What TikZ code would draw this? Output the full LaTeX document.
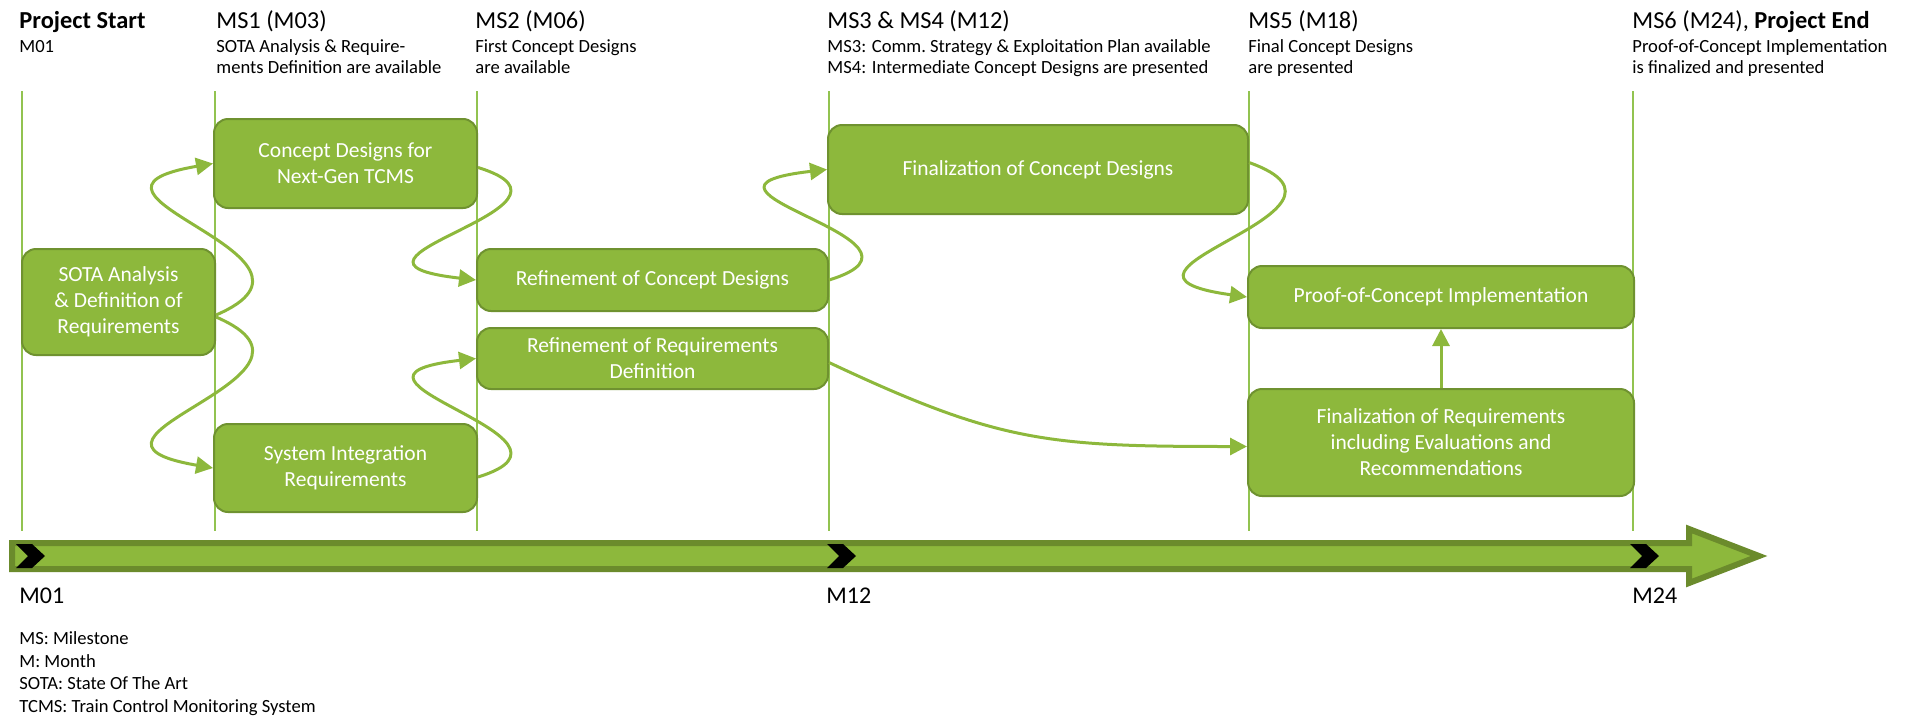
\documentclass[tikz,border=0pt]{standalone}
\usepackage{fontspec}
\setmainfont{Carlito}
\usetikzlibrary{arrows.meta}

\definecolor{taskgreen}{HTML}{8DB83C}
\definecolor{taskedge}{HTML}{6F9230}
\definecolor{msgreen}{HTML}{92C350}
\definecolor{bardark}{HTML}{6B8B2C}

\begin{document}
\begin{tikzpicture}[x=0.5pt, y=-0.5pt, >={Triangle[length=8.5pt,width=8.5pt]},
                    line join=round]
    \tikzstyle{task}=[draw=taskedge, fill=taskgreen, line width=1pt, rounded corners=7pt,
                      text=white, align=center, inner sep=2pt,
                      font=\fontsize{10.75}{13}\selectfont]
    \tikzstyle{flow}=[->, draw=taskgreen, line width=1.5pt]
    \tikzstyle{msline}=[draw=msgreen, line width=1pt]
    \tikzstyle{mstitle}=[anchor=base west, inner sep=0pt, font=\fontsize{12.2}{14}\selectfont]
    \tikzstyle{mstext}=[anchor=base west, inner sep=0pt, align=left,
                        font=\fontsize{9.3}{10.5}\selectfont]
    \tikzstyle{month}=[anchor=base west, inner sep=0pt, font=\fontsize{12}{14}\selectfont]

    \useasboundingbox (0,0) rectangle (1905,718);

    % milestone lines
    \foreach \x in {22,215,477,829,1249,1633}
        \draw[msline] (\x,91) -- (\x,531);

    % milestone headers (multi-line texts sit on their last baseline)
    \node[mstitle] (ms0)  at (19,28)   {\textbf{Project Start}};
    \node[mstext]  (ms0t) at (19,52)   {M01};
    \node[mstitle] (ms1)  at (216,28)  {MS1 (M03)};
    \node[mstext]  (ms1t) at (216,73)  {SOTA Analysis \& Require-\\ments Definition are available};
    \node[mstitle] (ms2)  at (475,28)  {MS2 (M06)};
    \node[mstext]  (ms2t) at (475,73)  {First Concept Designs\\are available};
    \node[mstitle] (ms3)  at (827,28)  {MS3 \& MS4 (M12)};
    \node[mstext]  (ms3t) at (827,73)  {MS3: Comm.\ Strategy \& Exploitation Plan available\\MS4: Intermediate Concept Designs are presented};
    \node[mstitle] (ms5)  at (1248,28) {MS5 (M18)};
    \node[mstext]  (ms5t) at (1248,73) {Final Concept Designs\\are presented};
    \node[mstitle] (ms6)  at (1632,28) {MS6 (M24), \textbf{Project End}};
    \node[mstext]  (ms6t) at (1632,73) {Proof-of-Concept Implementation\\is finalized and presented};

    % work packages
    \node[task, minimum width=96.5pt, minimum height=53pt]  (sota) at (118.5,302)  {SOTA Analysis\\\& Definition of\\Requirements};
    \node[task, minimum width=131.5pt, minimum height=44.5pt] (cd) at (345.5,163.5) {Concept Designs for\\Next-Gen TCMS};
    \node[task, minimum width=131.5pt, minimum height=44pt] (si)   at (345.5,468)  {System Integration\\Requirements};
    \node[task, minimum width=175.5pt, minimum height=31pt] (rcd)  at (652.5,280)  {Refinement of Concept Designs};
    \node[task, minimum width=175.5pt, minimum height=30.5pt] (rrd) at (652.5,358.5) {Refinement of Requirements\\Definition};
    \node[task, minimum width=210pt, minimum height=44.5pt] (fcd)  at (1038,169.5) {Finalization of Concept Designs};
    \node[task, minimum width=193pt, minimum height=31pt]   (poc)  at (1441,297)   {Proof-of-Concept Implementation};
    \node[task, minimum width=193pt, minimum height=53.5pt] (fr)   at (1441,442.5) {Finalization of Requirements\\including Evaluations and\\Recommendations};

    % connectors
    \draw[flow] ([yshift=-6.5pt]sota.east) .. controls +(140,-60) and +(-175,30) .. (cd.west);
    \draw[flow] ([yshift=-7.5pt]sota.east) .. controls +(140,60) and +(-175,-30) .. (si.west);
    \draw[flow] ([yshift=-2pt]cd.east) .. controls +(130,40) and +(-175,-20) .. (rcd.west);
    \draw[flow] ([yshift=-4.5pt]si.east) .. controls +(130,-40) and +(-175,20) .. (rrd.west);
    \draw[flow] (rcd.east) .. controls +(130,-40) and +(-175,20) .. (fcd.west);
    \draw[flow] ([yshift=3.5pt]fcd.east) .. controls +(140,50) and +(-180,-25) .. (poc.west);
    \draw[flow] ([yshift=-2pt]rrd.east) .. controls +(170,80) and +(-200,0) .. ([yshift=-2pt]fr.west);
    \draw[flow] (fr.north) -- (poc.south);

    % time bar
    \filldraw[fill=taskgreen, draw=bardark, line width=3pt, line join=miter]
        (12,543) -- (1689,543) -- (1689,529) -- (1759,556) -- (1689,583)
        -- (1689,569) -- (12,569) -- cycle;
    \foreach \cx in {16,827,1630}
        \fill[black] (\cx,544) -- ++(16,0) -- ++(13,12) -- ++(-13,12) -- ++(-16,0)
            -- ++(12,-12) -- cycle;

    \node[month] (m01) at (19,603)   {M01};
    \node[month] (m12) at (826,603)  {M12};
    \node[month] (m24) at (1632,603) {M24};

    % legend
    \node[anchor=base west, inner sep=0pt, align=left,
          font=\fontsize{9.3}{11.2}\selectfont] (legend) at (19,712)
        {MS: Milestone\\M: Month\\SOTA: State Of The Art\\TCMS: Train Control Monitoring System};
\end{tikzpicture}
\end{document}
